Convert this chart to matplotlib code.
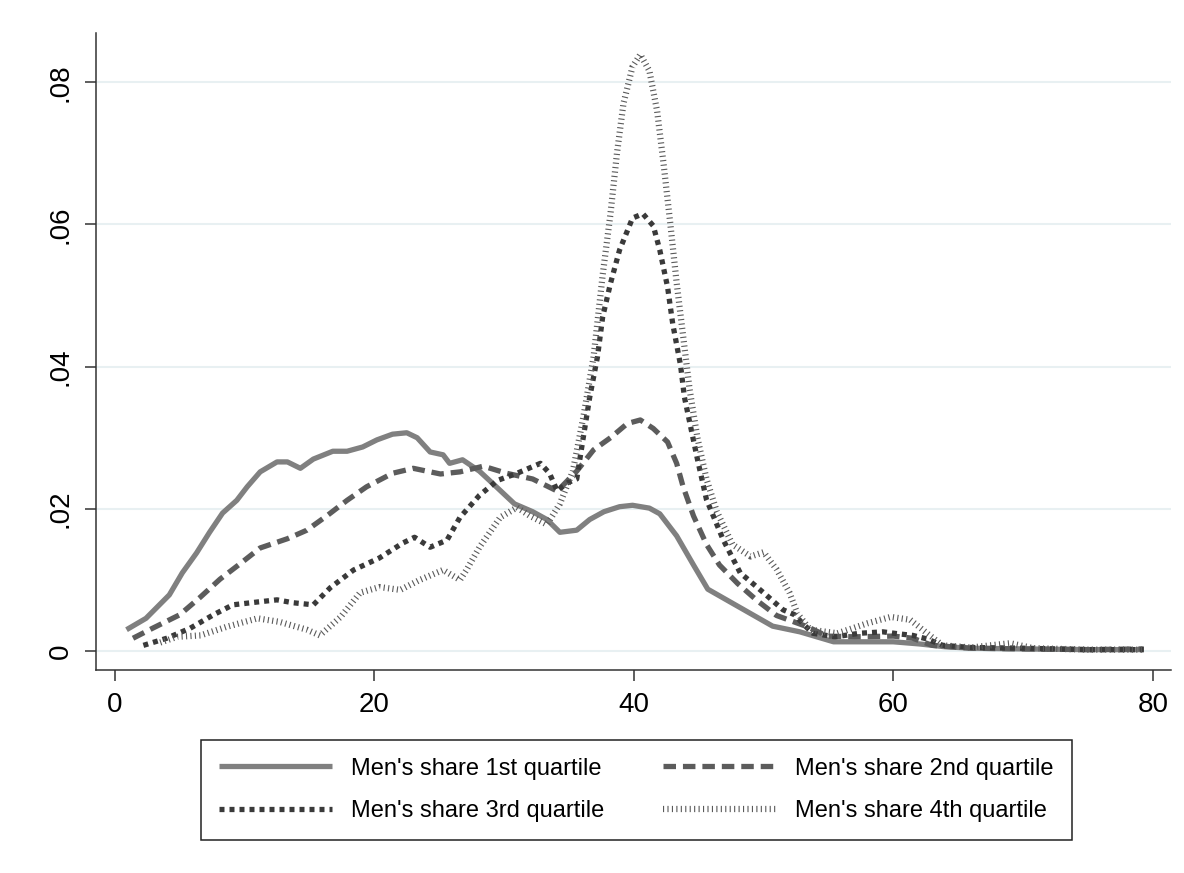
import matplotlib
matplotlib.use("Agg")
import matplotlib.pyplot as plt

plt.rcParams['font.family'] = ['Liberation Sans', 'DejaVu Sans']
plt.rcParams['lines.scale_dashes'] = False

# Men's share 1st quartile
q1_x = [0.9, 2.4, 4.2, 5.2, 6.3, 7.3, 8.3, 9.4, 10.2, 11.2, 12.5, 13.3, 14.3, 15.3,
        16.8, 17.9, 19.1, 20.2, 21.4, 22.5, 23.3, 24.3, 25.3, 25.8, 26.8, 28.1, 29.4,
        30.8, 32.2, 33.3, 34.3, 35.6, 36.6, 37.7, 38.9, 39.9, 41.2, 42.0, 43.3, 44.6,
        45.7, 48.2, 50.7, 52.8, 55.4, 57.0, 60.0, 62.0, 64.0, 66.0, 70.0, 75.0, 79.3]
q1_y = [.0030, .0046, .0079, .0110, .0138, .0167, .0194, .0212, .0231, .0252, .0266,
        .0266, .0257, .0270, .0281, .0281, .0287, .0297, .0305, .0307, .0300, .0280,
        .0276, .0264, .0269, .0253, .0231, .0207, .0196, .0185, .0167, .0170, .0185,
        .0196, .0203, .0205, .0201, .0193, .0162, .0121, .0087, .0061, .0035, .0027,
        .0013, .0013, .0013, .0010, .0006, .0004, .0003, .0002, .0002]

# Men's share 2nd quartile
q2_x = [1.4, 2.9, 5.0, 6.6, 8.1, 9.6, 11.2, 13.3, 14.8, 16.4, 17.9, 19.4, 21.4, 23.0,
        25.1, 26.6, 28.4, 30.2, 32.2, 34.1, 35.6, 36.9, 38.2, 39.5, 40.5, 41.5, 42.6,
        43.3, 43.8, 44.6, 45.6, 46.6, 48.0, 49.5, 51.0, 53.4, 54.9, 57.0, 60.0, 61.5,
        63.0, 66.0, 70.0, 75.0, 79.3]
q2_y = [.0018, .0032, .0051, .0076, .0101, .0122, .0145, .0158, .0170, .0191, .0212,
        .0231, .0250, .0257, .0249, .0252, .0260, .0250, .0242, .0225, .0253, .0283,
        .0300, .0320, .0325, .0313, .0294, .0264, .0231, .0190, .0150, .0121, .0095,
        .0071, .0050, .0034, .0021, .0020, .0021, .0018, .0008, .0004, .0003, .0002,
        .0003]

# Men's share 3rd quartile
q3_x = [2.2, 4.0, 5.8, 7.6, 9.1, 11.0, 12.5, 13.7, 15.3, 16.6, 18.4, 20.4, 22.2, 23.1,
        24.3, 25.6, 26.6, 28.1, 29.5, 31.0, 32.8, 33.5, 34.1, 34.8, 35.6, 36.1, 36.6,
        37.2, 37.6, 38.2, 38.9, 39.9, 40.7, 41.5, 42.0, 42.6, 43.0, 43.6, 43.9, 44.9,
        45.6, 46.9, 48.2, 50.0, 51.5, 52.4, 53.0, 53.8, 55.5, 57.4, 59.2, 60.5, 61.5,
        62.6, 63.8, 66.0, 70.0, 75.0, 79.3]
q3_y = [.0008, .0018, .0032, .0051, .0065, .0069, .0072, .0068, .0065, .0089, .0114,
        .0131, .0152, .0160, .0146, .0156, .0188, .0219, .0240, .0250, .0264, .0250,
        .0225, .0236, .0242, .0300, .0357, .0414, .0470, .0517, .0564, .0609, .0615,
        .0598, .0564, .0512, .0460, .0402, .0357, .0270, .0213, .0156, .0110, .0082,
        .0058, .0051, .0039, .0025, .0020, .0025, .0027, .0024, .0022, .0017, .0008,
        .0005, .0004, .0002, .0002]

# Men's share 4th quartile
q4_x = [3.5, 4.8, 6.6, 8.6, 11.0, 12.7, 14.8, 15.8, 17.4, 18.9, 20.4, 22.0, 23.5, 25.3,
        26.6, 27.1, 28.1, 29.7, 31.0, 32.0, 33.3, 34.3, 35.3, 36.1, 36.9, 37.6, 38.2,
        38.7, 39.2, 39.9, 40.5, 41.2, 41.8, 42.3, 42.8, 43.3, 43.8, 44.3, 44.9, 45.6,
        46.4, 47.6, 49.0, 50.0, 51.0, 52.0, 52.6, 53.6, 55.7, 58.0, 59.8, 61.3, 62.6,
        63.8, 66.0, 69.0, 70.8, 75.0, 79.3]
q4_y = [.0012, .0020, .0022, .0034, .0046, .0041, .0030, .0022, .0048, .0082, .0090,
        .0086, .0100, .0114, .0100, .0114, .0146, .0188, .0202, .0190, .0178, .0207,
        .0253, .0328, .0414, .0529, .0615, .0700, .0770, .0822, .0839, .0816, .0759,
        .0684, .0603, .0518, .0443, .0368, .0300, .0242, .0196, .0150, .0133, .0139,
        .0115, .0082, .0053, .0030, .0025, .0039, .0048, .0044, .0025, .0008, .0005,
        .0011, .0004, .0002, .0002]

labels = ["Men's share 1st quartile", "Men's share 2nd quartile",
          "Men's share 3rd quartile", "Men's share 4th quartile"]
x_ticks = [0, 20, 40, 60, 80]
y_ticks = [0, .02, .04, .06, .08]
y_tick_labels = ["0", ".02", ".04", ".06", ".08"]

fig = plt.figure(figsize=(11.84, 8.73), dpi=100)
ax = fig.add_axes([0.081, 0.2325, 0.908, 0.7295])

for y in y_ticks:
    ax.axhline(y, color='#e8f0f2', lw=1.5, zorder=0)

l1, = ax.plot(q1_x, q1_y, color='#808080', lw=3.8, solid_capstyle='butt',
              solid_joinstyle='round')
l2, = ax.plot(q2_x, q2_y, color='#5c5c5c', lw=3.8, dashes=(9, 5))
l3, = ax.plot(q3_x, q3_y, color='#3a3a3a', lw=3.8, dashes=(3.6, 3.6))
l4, = ax.plot(q4_x, q4_y, color='#5a5a5a', lw=4.5, dashes=(0.8, 2.4))

ax.set_xlim(-1.46, 81.4)
ax.set_ylim(-0.00267, 0.0869)
ax.set_xticks(x_ticks)
ax.set_yticks(y_ticks)
ax.set_yticklabels(y_tick_labels, rotation=90, va='center')
ax.tick_params(axis='both', labelsize=20, length=8, width=1.1, color='#333333',
               direction='out')
ax.tick_params(axis='y', pad=8)
ax.tick_params(axis='x', pad=8)
ax.spines[['top', 'right']].set_visible(False)
for s in ['left', 'bottom']:
    ax.spines[s].set_color('#333333')
    ax.spines[s].set_linewidth(1.1)

# matplotlib fills legend columns first, so order handles to get row-major layout
handles = [l1, l3, l2, l4]
leg_labels = [labels[0], labels[2], labels[1], labels[3]]
leg = fig.legend(handles, leg_labels, ncol=2, loc='upper left',
                 bbox_to_anchor=(201 / 1184, 1 - 740 / 873), borderaxespad=0,
                 fontsize=17, handlelength=4.8, handletextpad=0.8,
                 columnspacing=2.5, labelspacing=0.88, borderpad=0.75,
                 fancybox=False, framealpha=1)
leg.get_frame().set_edgecolor('#222222')
leg.get_frame().set_linewidth(1.1)

fig.savefig("out.png", dpi=100)
